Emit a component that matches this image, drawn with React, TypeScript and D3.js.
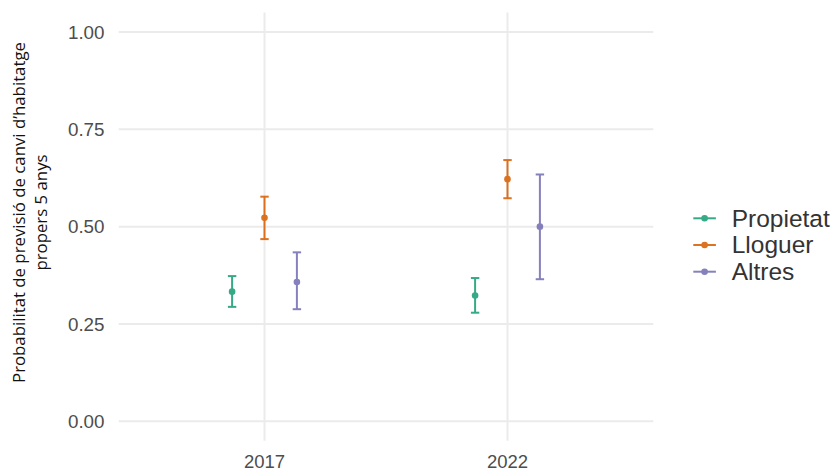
import React from 'react';
import * as d3 from 'd3';

const years = ['2017', '2022'];
const groups = ['Propietat', 'Lloguer', 'Altres'];
const colors = ['#1B9E77', '#D95F02', '#7570B3'];
const estimate = [
  [0.333, 0.323],
  [0.523, 0.622],
  [0.358, 0.5],
];
const lower = [
  [0.294, 0.279],
  [0.468, 0.573],
  [0.288, 0.365],
];
const upper = [
  [0.373, 0.368],
  [0.577, 0.671],
  [0.434, 0.634],
];
const yTicks = [0, 0.25, 0.5, 0.75, 1];
const titleLines = ["Probabilitat de previsió de canvi d’habitatge", 'propers 5 anys'];

const W = 834;
const H = 472;
const panel = { left: 118.7, right: 653.3, top: 12.5, bottom: 440.8 };

export default function App() {
  const x = d3.scalePoint<string>().domain(years).range([panel.left, panel.right]).padding(0.6);
  const y = d3.scaleLinear().domain([-0.05, 1.05]).range([panel.bottom, panel.top]);
  const dodge = d3
    .scalePoint<string>()
    .domain(groups)
    .range([-(0.4 / 3) * x.step(), (0.4 / 3) * x.step()]);
  const cap = 4.2;
  const tickFont = '"Liberation Sans", Arial, Helvetica, sans-serif';
  return (
    <svg width={W} height={H} style={{ position: 'absolute', left: 0, top: 0, background: '#fff' }}>
      {yTicks.map((t) => (
        <line key={'h' + t} x1={panel.left} x2={panel.right} y1={y(t)} y2={y(t)} stroke="#EBEBEB" strokeWidth={2} />
      ))}
      {years.map((yr) => (
        <line key={'v' + yr} x1={x(yr)} x2={x(yr)} y1={panel.top} y2={panel.bottom} stroke="#EBEBEB" strokeWidth={2} />
      ))}
      {groups.map((g, gi) =>
        years.map((yr, yi) => {
          const cx = (x(yr) as number) + (dodge(g) as number);
          return (
            <g key={g + yr} stroke={colors[gi]} fill={colors[gi]} opacity={0.88}>
              <line x1={cx} x2={cx} y1={y(lower[gi][yi])} y2={y(upper[gi][yi])} strokeWidth={2} />
              <line x1={cx - cap} x2={cx + cap} y1={y(lower[gi][yi])} y2={y(lower[gi][yi])} strokeWidth={2} />
              <line x1={cx - cap} x2={cx + cap} y1={y(upper[gi][yi])} y2={y(upper[gi][yi])} strokeWidth={2} />
              <circle cx={cx} cy={y(estimate[gi][yi])} r={3.3} stroke="none" />
            </g>
          );
        })
      )}
      {yTicks.map((t) => (
        <text
          key={'yl' + t}
          x={104.5}
          y={y(t) + 6.6}
          textAnchor="end"
          fontFamily={tickFont}
          fontSize={18.8}
          fill="#4D4D4D"
        >
          {d3.format('.2f')(t)}
        </text>
      ))}
      {years.map((yr) => (
        <text key={'xl' + yr} x={x(yr)} y={468} textAnchor="middle" fontFamily={tickFont} fontSize={18.5} fill="#4D4D4D">
          {yr}
        </text>
      ))}
      {titleLines.map((l, i) => (
        <text
          key={'t' + i}
          transform={`translate(${25 + i * 22},212.5) rotate(-90)`}
          textAnchor="middle"
          fontFamily='"Open Sans", "Noto Sans", sans-serif'
          fontSize={16.8}
          fill="#111"
        >
          {l}
        </text>
      ))}
      {groups.map((g, gi) => {
        const cy = 218.3 + gi * 26.7;
        return (
          <g key={'lg' + g}>
            <g stroke={colors[gi]} fill={colors[gi]} opacity={0.88}>
              <line x1={693.3} x2={715.9} y1={cy} y2={cy} strokeWidth={2} />
              <circle cx={704.6} cy={cy} r={3.3} stroke="none" />
            </g>
            <text x={731.7} y={cy + 8.3} fontFamily={tickFont} fontSize={24.5} fill="#333">
              {g}
            </text>
          </g>
        );
      })}
    </svg>
  );
}
